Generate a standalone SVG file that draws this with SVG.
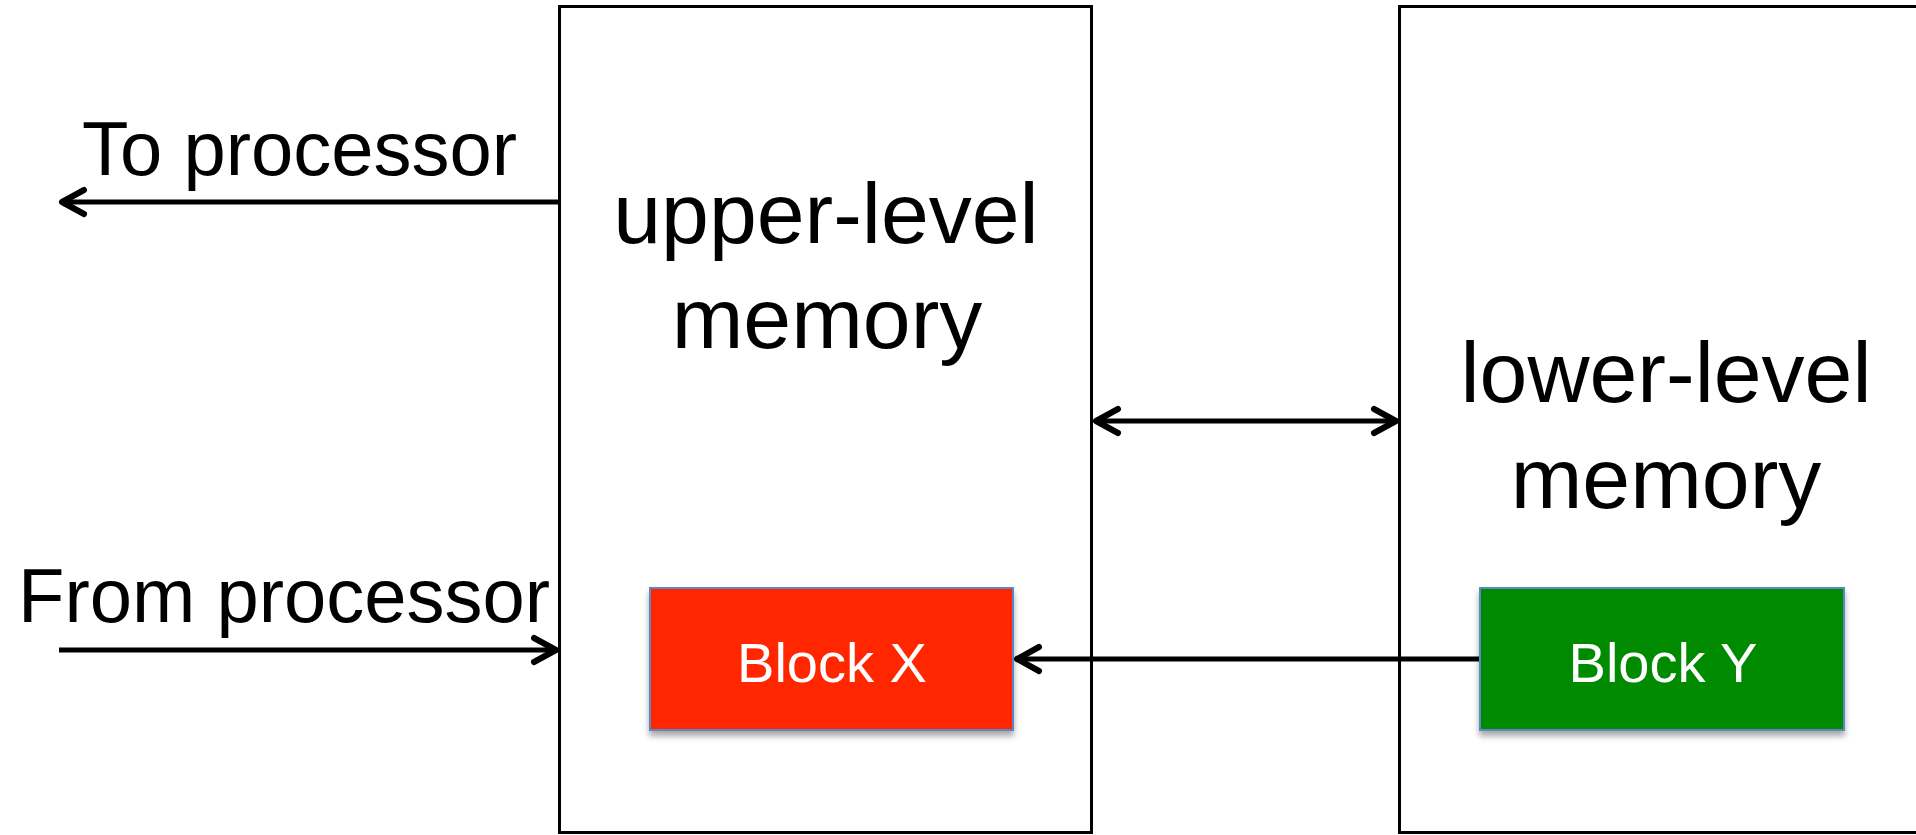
<svg xmlns="http://www.w3.org/2000/svg" width="1916" height="835" viewBox="0 0 1916 835">
  <style>
    .mem { fill: #ffffff; stroke: #000000; stroke-width: 3; }
    .big { font-family: "Liberation Sans", Arial, sans-serif; font-size: 86px; fill: #000000; text-anchor: middle; }
    .lbl { font-family: "Liberation Sans", Arial, sans-serif; font-size: 76px; fill: #000000; }
    .blk { font-family: "Liberation Sans", Arial, sans-serif; font-size: 56px; fill: #ffffff; text-anchor: middle; }
    .conn { stroke: #000000; stroke-width: 5; fill: none; }
    .blockx { fill: #ff2600; stroke: #5a88c6; stroke-width: 2; }
    .blocky { fill: #008a00; stroke: #5a88c6; stroke-width: 2; }
  </style>
  <defs>
    <marker id="arrow" markerUnits="userSpaceOnUse" markerWidth="40" markerHeight="40" viewBox="-30 -20 40 40" refX="0" refY="0" orient="auto-start-reverse">
      <path d="M -22 -12 L 0 0 L -22 12" fill="none" stroke="#000000" stroke-width="6" stroke-linecap="round" stroke-linejoin="round"/>
    </marker>
    <filter id="shadow" x="-10%" y="-10%" width="130%" height="140%">
      <feGaussianBlur in="SourceAlpha" stdDeviation="3"/>
      <feOffset dx="0" dy="5" result="b"/>
      <feComponentTransfer><feFuncA type="linear" slope="0.35"/></feComponentTransfer>
      <feMerge><feMergeNode/><feMergeNode in="SourceGraphic"/></feMerge>
    </filter>
  </defs>
  <rect width="1916" height="835" fill="#ffffff"/>

  <g id="upper-memory">
    <rect class="mem" x="559.5" y="6.5" width="532" height="826"/>
    <text class="big" x="826" y="243">upper-level</text>
    <text class="big" x="827" y="348">memory</text>
  </g>

  <g id="lower-memory">
    <rect class="mem" x="1399.5" y="6.5" width="540" height="826"/>
    <text class="big" x="1666" y="402">lower-level</text>
    <text class="big" x="1666" y="508">memory</text>
  </g>

  <g id="label-to">
    <text class="lbl" x="82" y="175">To processor</text>
  </g>
  <g id="label-from">
    <text class="lbl" x="18" y="622">From processor</text>
  </g>

  <g id="connectors">
    <line class="conn" x1="559" y1="202" x2="62" y2="202" marker-end="url(#arrow)"/>
    <line class="conn" x1="59" y1="650" x2="556" y2="650" marker-end="url(#arrow)"/>
    <line class="conn" x1="1096" y1="421" x2="1396" y2="421" marker-start="url(#arrow)" marker-end="url(#arrow)"/>
    <line class="conn" x1="1480" y1="659" x2="1017" y2="659" marker-end="url(#arrow)"/>
  </g>

  <g id="block-x">
    <rect class="blockx" x="650" y="588" width="363" height="142" filter="url(#shadow)"/>
    <text class="blk" x="832" y="682">Block X</text>
  </g>

  <g id="block-y">
    <rect class="blocky" x="1480" y="588" width="364" height="142" filter="url(#shadow)"/>
    <text class="blk" x="1663" y="682">Block Y</text>
  </g>
</svg>
